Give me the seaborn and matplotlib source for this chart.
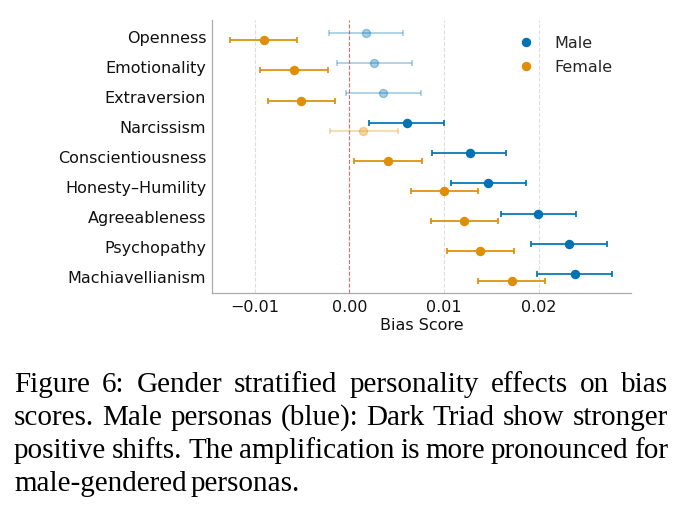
import matplotlib
matplotlib.use("Agg")
import matplotlib.pyplot as plt
from matplotlib.lines import Line2D
import seaborn as sns
import numpy as np

traits = ["Openness", "Emotionality", "Extraversion", "Narcissism", "Conscientiousness",
          "Honesty\u2013Humility", "Agreeableness", "Psychopathy", "Machiavellianism"]
male_mean = [0.0018, 0.0026, 0.0036, 0.0061, 0.0127, 0.0147, 0.0199, 0.0232, 0.0238]
male_lo = [-0.0021, -0.0013, -0.0003, 0.0021, 0.0087, 0.0107, 0.0160, 0.0192, 0.0198]
male_hi = [0.0057, 0.0066, 0.0076, 0.0100, 0.0166, 0.0187, 0.0239, 0.0272, 0.0277]
male_sig = [False, False, False, True, True, True, True, True, True]
female_mean = [-0.0090, -0.0058, -0.0051, 0.0015, 0.0041, 0.0100, 0.0121, 0.0138, 0.0172]
female_lo = [-0.0126, -0.0094, -0.0086, -0.0020, 0.0005, 0.0065, 0.0086, 0.0103, 0.0136]
female_hi = [-0.0055, -0.0023, -0.0015, 0.0051, 0.0077, 0.0136, 0.0157, 0.0174, 0.0207]
female_sig = [True, True, True, False, True, True, True, True, True]
groups = ["Male", "Female"]
xticks = [-0.01, 0.0, 0.01, 0.02]
xticklabels = ["\u22120.01", "0.00", "0.01", "0.02"]
caption_lines = [
    "Figure 6:  Gender stratified personality effects on bias",
    "scores. Male personas (blue): Dark Triad show stronger",
    "positive shifts. The amplification is more pronounced for",
    "male-gendered personas.",
]

sns.set_theme(style="white")
pal = sns.color_palette("colorblind")
colors = {"Male": pal[0], "Female": pal[1]}

W, H = 686, 524
fig = plt.figure(figsize=(W / 100, H / 100), dpi=100)
ax = fig.add_axes([211.7 / W, 1 - 293.3 / H, (631 - 211.7) / W, (293.3 - 20) / H])

series = {
    "Male": (male_mean, male_lo, male_hi, male_sig, -0.121),
    "Female": (female_mean, female_lo, female_hi, female_sig, 0.121),
}
for g in groups:
    mean, lo, hi, sig, off = series[g]
    for i, t in enumerate(traits):
        a = 1.0 if sig[i] else 0.35
        m = mean[i]
        ax.errorbar([m], [i + off], xerr=[[m - lo[i]], [hi[i] - m]], fmt="o",
                    color=colors[g], alpha=a, markersize=5.8, elinewidth=1.25,
                    capsize=2.0, capthick=1.25, zorder=3)

# vertical grid (skip zero, where the reference line sits)
for t in xticks:
    if t != 0:
        ax.axvline(t, color="#dddddd", linestyle="--", linewidth=0.8, zorder=0)
ax.axvline(0, color="#ee6a66", linestyle="--", linewidth=0.8, zorder=2)

ax.set_yticks(range(len(traits)))
ax.set_yticklabels(traits)
ax.set_ylim(len(traits) - 0.47, -0.555)
ax.set_xlim(-0.01453, 0.02975)
ax.set_xticks(xticks)
ax.set_xticklabels(xticklabels)
ax.grid(False)
for s in ["top", "right"]:
    ax.spines[s].set_visible(False)
for s in ["left", "bottom"]:
    ax.spines[s].set_color("#aaaaaa")
    ax.spines[s].set_linewidth(0.9)
ax.tick_params(axis="y", labelsize=11.5, colors="#111111", length=0, pad=4)
ax.tick_params(axis="x", labelsize=11.5, colors="#111111", length=0, pad=5)
ax.set_xlabel("Bias Score", fontsize=11.5, color="#111111", labelpad=2)

handles = [Line2D([], [], marker="o", linestyle="none", color=colors[g], markersize=5.8)
           for g in groups]
ax.legend(handles, groups, loc="upper right", bbox_to_anchor=(0.99, 0.995), frameon=False,
          fontsize=11.5, handletextpad=0.8, labelspacing=0.55)

# caption, justified
renderer = fig.canvas.get_renderer()
x0, x1 = 14, 668
baselines = [392, 425, 458, 491]
cap_kw = dict(family="Liberation Serif", fontsize=21, color="#000000", va="baseline", ha="left")
for li, (line, yb) in enumerate(zip(caption_lines, baselines)):
    words = [w for w in line.split(" ") if w]
    arts = [fig.text(0, 1 - yb / H, w, **cap_kw) for w in words]
    widths = [a.get_window_extent(renderer).width for a in arts]
    if li < len(caption_lines) - 1:
        gap = (x1 - x0 - sum(widths)) / (len(words) - 1)
    else:
        gap = 4.0
    x = x0
    for a, wd in zip(arts, widths):
        a.set_x(x / W)
        x += wd + gap

fig.savefig("out.png", dpi=100)
